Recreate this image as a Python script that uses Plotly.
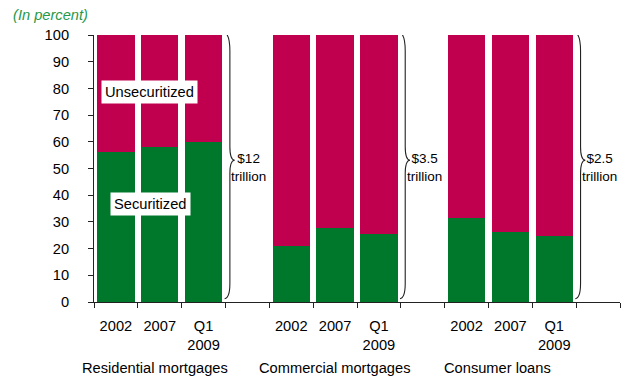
import plotly.graph_objects as go

groups = ["Residential mortgages", "Commercial mortgages", "Consumer loans"]
periods = ["2002", "2007", "Q1<br>2009"]
securitized = [
    [56, 58, 60],      # Residential mortgages
    [21, 27.6, 25.4],  # Commercial mortgages
    [31.4, 26.4, 24.8] # Consumer loans
]
totals = ["$12<br>trillion", "$3.5<br>trillion", "$2.5<br>trillion"]

GREEN = "#00782C"
CRIMSON = "#C0004E"
TITLE_GREEN = "#24994A"
FONT = "Liberation Sans, Arial, sans-serif"
FS = 14.67

slot = len(periods) + 1
xs, sec, unsec, labels = [], [], [], []
for g, vals in enumerate(securitized):
    for i, v in enumerate(vals):
        xs.append(g * slot + i)
        sec.append(v)
        unsec.append(100 - v)
        labels.append(periods[i])

fig = go.Figure()
fig.add_bar(x=xs, y=sec, marker_color=GREEN, width=0.855, name="Securitized",
            marker_line_width=0)
fig.add_bar(x=xs, y=unsec, marker_color=CRIMSON, width=0.855, name="Unsecuritized",
            marker_line_width=0)

n_slots = slot * len(groups)
boundaries = [b - 0.5 for b in range(n_slots + 1)]

# braces and totals
for g, txt in enumerate(totals):
    x0 = g * slot + len(periods) - 0.5 - 0.02
    xv = x0 + 0.12
    xc = x0 + 0.23
    ym = 53.1
    path = (f"M {x0},101 Q {xv},100 {xv},94 L {xv},{ym+5} "
            f"Q {xv},{ym} {xc},{ym} Q {xv},{ym} {xv},{ym-5} "
            f"L {xv},7 Q {xv},1.5 {x0},1.2")
    fig.add_shape(type="path", path=path, xref="x", yref="y",
                  line=dict(color="#222222", width=1.1))
    fig.add_annotation(x=x0 + 0.55, y=50.5, text=txt, showarrow=False,
                       font=dict(family=FONT, size=13.5, color="#000"),
                       xanchor="center", yanchor="middle", align="center")

# series labels
fig.add_annotation(x=0.76, y=78.6, text="Unsecuritized", showarrow=False,
                   bgcolor="white", borderpad=3,
                   font=dict(family=FONT, size=FS, color="#000"))
fig.add_annotation(x=0.79, y=36.8, text="Securitized", showarrow=False,
                   bgcolor="white", borderpad=3,
                   font=dict(family=FONT, size=FS, color="#000"))

# group labels
group_x = [0.89, 5.0, 8.7]
for g, name in enumerate(groups):
    fig.add_annotation(x=group_x[g], y=0, yref="paper", text=name, showarrow=False,
                       yanchor="middle", yshift=-66,
                       font=dict(family=FONT, size=FS, color="#000"))

fig.update_layout(
    width=637, height=379,
    barmode="stack",
    showlegend=False,
    plot_bgcolor="white", paper_bgcolor="white",
    margin=dict(l=94, r=17, t=35, b=77, autoexpand=False),
    title=dict(text="(In percent)", x=13/637, xanchor="left", xref="container",
               y=1 - 15/379, yanchor="middle", yref="container",
               font=dict(family=FONT, size=FS, color=TITLE_GREEN, style="italic")),
    font=dict(family=FONT, size=FS, color="#000"),
)
fig.update_xaxes(
    automargin=False,
    range=[-0.5, n_slots - 0.5],
    tickmode="array", tickvals=xs, ticktext=labels,
    ticks="outside", ticklen=5, tickcolor="rgba(0,0,0,0)",
    showline=True, linecolor="#222", linewidth=1,
    showgrid=False, zeroline=False,
    minor=dict(tickmode="array", tickvals=boundaries, ticks="outside",
               ticklen=5, tickcolor="#222", tickwidth=1, showgrid=False),
    tickfont=dict(family=FONT, size=FS, color="#000"),
    ticklabelstandoff=5,
)
fig.update_yaxes(
    automargin=False,
    range=[0, 100], tickmode="linear", tick0=0, dtick=10,
    ticks="outside", ticklen=5, tickcolor="#222",
    showline=True, linecolor="#222", linewidth=1,
    showgrid=False, zeroline=False,
    ticklabelstandoff=16,
    tickfont=dict(family=FONT, size=FS, color="#000"),
)

fig.write_html("out.html",
               config={"displayModeBar": False},
               post_script="document.body.style.margin='0';document.body.style.overflow='hidden';")
